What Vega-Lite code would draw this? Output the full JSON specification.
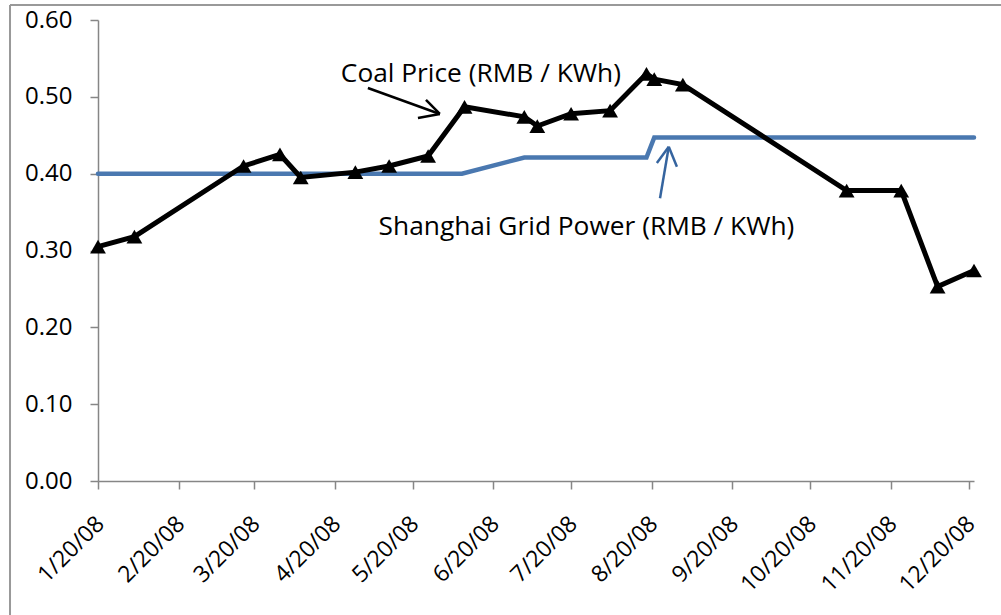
{
  "$schema": "https://vega.github.io/schema/vega-lite/v6.json",
  "width": 876,
  "height": 461,
  "autosize": {"type": "none"},
  "padding": {"left": 98, "top": 20, "right": 27, "bottom": 134},
  "background": "white",
  "config": {
    "view": {"stroke": null},
    "font": "Open Sans"
  },
  "datasets": {
    "coal": [
      {"date": "2008-01-20", "price": 0.305},
      {"date": "2008-02-03", "price": 0.318},
      {"date": "2008-03-16", "price": 0.41},
      {"date": "2008-03-30", "price": 0.425},
      {"date": "2008-04-07", "price": 0.395},
      {"date": "2008-04-28", "price": 0.402},
      {"date": "2008-05-11", "price": 0.41},
      {"date": "2008-05-26", "price": 0.423},
      {"date": "2008-06-09", "price": 0.487},
      {"date": "2008-07-02", "price": 0.474},
      {"date": "2008-07-07", "price": 0.462},
      {"date": "2008-07-20", "price": 0.478},
      {"date": "2008-08-04", "price": 0.482},
      {"date": "2008-08-18", "price": 0.53},
      {"date": "2008-08-21", "price": 0.523},
      {"date": "2008-09-01", "price": 0.516},
      {"date": "2008-11-03", "price": 0.378},
      {"date": "2008-11-24", "price": 0.378},
      {"date": "2008-12-08", "price": 0.253},
      {"date": "2008-12-22", "price": 0.274}
    ],
    "grid": [
      {"date": "2008-01-20", "price": 0.40},
      {"date": "2008-06-08", "price": 0.40},
      {"date": "2008-07-02", "price": 0.421},
      {"date": "2008-08-18", "price": 0.421},
      {"date": "2008-08-21", "price": 0.447},
      {"date": "2008-12-22", "price": 0.447}
    ],
    "arrows": [
      {"series": "coal", "x": "2008-05-02T20:00Z", "y": 0.5115, "x2": "2008-05-30T12:00Z", "y2": 0.4777},
      {"series": "coal", "x": "2008-05-25T04:00Z", "y": 0.4959, "x2": "2008-05-30T12:00Z", "y2": 0.4777},
      {"series": "coal", "x": "2008-05-22T02:00Z", "y": 0.4725, "x2": "2008-05-30T12:00Z", "y2": 0.4777},
      {"series": "grid", "x": "2008-08-23T05:00Z", "y": 0.368, "x2": "2008-08-26T14:00Z", "y2": 0.435},
      {"series": "grid", "x": "2008-08-22T00:00Z", "y": 0.414, "x2": "2008-08-26T14:00Z", "y2": 0.435},
      {"series": "grid", "x": "2008-08-29T17:00Z", "y": 0.409, "x2": "2008-08-26T14:00Z", "y2": 0.435}
    ],
    "notes": [
      {"date": "2008-06-15T07:00Z", "price": 0.5193, "label": "Coal Price (RMB / KWh)"},
      {"date": "2008-07-25T22:00Z", "price": 0.3202, "label": "Shanghai Grid Power (RMB / KWh)"}
    ],
    "frame": [
      {"x": "2007-12-17T03:36Z", "y": 0.6196, "x2": "2009-02-28T00:00Z", "y2": 0.6196},
      {"x": "2007-12-17T03:36Z", "y": 0.6196, "x2": "2007-12-17T03:36Z", "y2": -0.4}
    ]
  },
  "layer": [
    {
      "data": {"name": "grid"},
      "mark": {"type": "line", "color": "#4A78B0", "strokeWidth": 4.5, "strokeCap": "round"},
      "encoding": {
        "x": {
          "field": "date", "type": "temporal",
          "scale": {"type": "utc", "domain": [{"year": 2008, "month": 1, "date": 20, "utc": true}, {"year": 2008, "month": 12, "date": 22, "utc": true}]},
          "axis": {
            "title": null,
            "grid": false,
            "values": [
              {"year": 2008, "month": 1, "date": 20, "utc": true},
              {"year": 2008, "month": 2, "date": 20, "utc": true},
              {"year": 2008, "month": 3, "date": 20, "utc": true},
              {"year": 2008, "month": 4, "date": 20, "utc": true},
              {"year": 2008, "month": 5, "date": 20, "utc": true},
              {"year": 2008, "month": 6, "date": 20, "utc": true},
              {"year": 2008, "month": 7, "date": 20, "utc": true},
              {"year": 2008, "month": 8, "date": 20, "utc": true},
              {"year": 2008, "month": 9, "date": 20, "utc": true},
              {"year": 2008, "month": 10, "date": 20, "utc": true},
              {"year": 2008, "month": 11, "date": 20, "utc": true},
              {"year": 2008, "month": 12, "date": 20, "utc": true}
            ],
            "labelExpr": "utcFormat(datum.value, '%-m/%d/%y')",
            "labelAngle": -45,
            "labelAlign": "right",
            "labelBaseline": "middle",
            "labelPadding": 31,
            "labelOffset": 2,
            "labelFontSize": 23,
            "labelColor": "#000000",
            "labelFont": "Open Sans",
            "labelOverlap": false,
            "labelFlush": false,
            "domainColor": "#868686",
            "domainWidth": 1.5,
            "tickColor": "#868686",
            "tickWidth": 1.5,
            "tickSize": 8
          }
        },
        "y": {
          "field": "price", "type": "quantitative",
          "scale": {"domain": [0, 0.6], "nice": false},
          "axis": {
            "title": null,
            "grid": false,
            "values": [0, 0.1, 0.2, 0.3, 0.4, 0.5, 0.6],
            "format": ".2f",
            "labelFontSize": 24,
            "labelColor": "#000000",
            "labelFont": "Open Sans",
            "labelPadding": 18,
            "labelFlush": false,
            "domainColor": "#868686",
            "domainWidth": 1.5,
            "tickColor": "#868686",
            "tickWidth": 1.5,
            "tickSize": 8
          }
        }
      }
    },
    {
      "data": {"name": "coal"},
      "mark": {"type": "line", "color": "#000000", "strokeWidth": 5, "strokeJoin": "miter"},
      "encoding": {
        "x": {"field": "date", "type": "temporal"},
        "y": {"field": "price", "type": "quantitative"}
      }
    },
    {
      "data": {"name": "coal"},
      "mark": {"type": "point", "shape": "triangle-up", "filled": true, "color": "#000000", "size": 250, "opacity": 1},
      "encoding": {
        "x": {"field": "date", "type": "temporal"},
        "y": {"field": "price", "type": "quantitative"}
      }
    },
    {
      "data": {"name": "arrows"},
      "mark": {"type": "rule", "strokeWidth": 2.5, "strokeCap": "butt"},
      "encoding": {
        "x": {"field": "x", "type": "temporal"},
        "x2": {"field": "x2"},
        "y": {"field": "y", "type": "quantitative"},
        "y2": {"field": "y2"},
        "color": {"field": "series", "type": "nominal", "scale": {"domain": ["coal", "grid"], "range": ["#000000", "#35649F"]}, "legend": null}
      }
    },
    {
      "data": {"name": "notes"},
      "mark": {"type": "text", "font": "Open Sans", "fontSize": 26.3, "align": "center", "baseline": "alphabetic", "color": "#000000"},
      "encoding": {
        "x": {"field": "date", "type": "temporal"},
        "y": {"field": "price", "type": "quantitative"},
        "text": {"field": "label"}
      }
    },
    {
      "data": {"name": "frame"},
      "mark": {"type": "rule", "color": "#999999", "strokeWidth": 2, "clip": false},
      "encoding": {
        "x": {"field": "x", "type": "temporal"},
        "x2": {"field": "x2"},
        "y": {"field": "y", "type": "quantitative"},
        "y2": {"field": "y2"}
      }
    }
  ]
}
